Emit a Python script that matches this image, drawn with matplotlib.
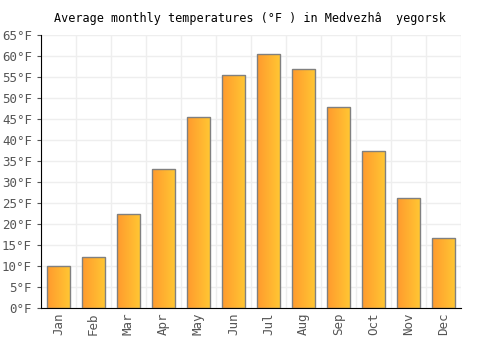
import numpy as np
import matplotlib.pyplot as plt
from matplotlib.colors import LinearSegmentedColormap

months = ["Jan", "Feb", "Mar", "Apr", "May", "Jun", "Jul", "Aug", "Sep", "Oct", "Nov", "Dec"]
temps_f = [10.0, 12.1, 22.4, 33.1, 45.5, 55.5, 60.5, 56.9, 47.9, 37.4, 26.2, 16.7]
yticks = list(range(0, 70, 5))

plt.rcParams['font.family'] = ['DejaVu Sans Mono']

fig = plt.figure(figsize=(5, 3.5), dpi=100)
ax = fig.add_axes([0.082, 0.12, 0.84, 0.78])

x = np.arange(len(months))
bars = ax.bar(x, temps_f, width=0.66, color='none', edgecolor='#808080', linewidth=1, zorder=3)

cmap = LinearSegmentedColormap.from_list('og', ['#ff9a2e', '#ffc833'])
grad = np.linspace(0, 1, 64).reshape(1, -1)
for b in bars:
    x0, y0 = b.get_x(), b.get_y()
    im = ax.imshow(grad, cmap=cmap, aspect='auto', extent=[x0, x0 + b.get_width(), y0, y0 + b.get_height()], zorder=2)
    im.set_clip_path(b)

ax.set_xlim(-0.5, len(months) - 0.5)
ax.set_ylim(0, 65)
ax.set_yticks(yticks)
ax.set_yticklabels([f"{v}°F" for v in yticks])
ax.set_xticks(x)
ax.set_xticklabels(months, rotation=90)
ax.set_xticks(np.arange(-0.5, len(months), 1), minor=True)
ax.grid(True, which='minor', axis='x', color='#eeeeee', linewidth=1, zorder=0)
ax.grid(True, which='major', axis='y', color='#eeeeee', linewidth=1, zorder=0)
ax.tick_params(axis='both', which='major', labelsize=9, colors='#555555', length=3)
ax.tick_params(axis='x', which='minor', length=0)
ax.tick_params(axis='x', which='major', length=0)
for s in ['top', 'right']:
    ax.spines[s].set_visible(False)
ax.spines['left'].set_color('black')
ax.spines['bottom'].set_color('black')
ax.set_axisbelow(True)

fig.text(0.5, 0.948, "Average monthly temperatures (°F ) in Medvezhâ  yegorsk",
         ha='center', va='center', fontsize=8.5, color='black')

fig.savefig('out.png', dpi=100)
